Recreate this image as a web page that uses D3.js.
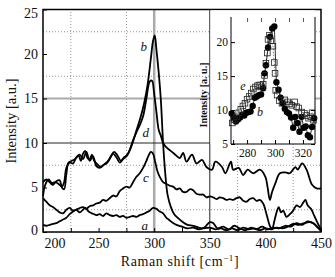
<!DOCTYPE html>
<html lang="en">
<head>
    <meta charset="UTF-8">
    <title></title>
    <script src="https://d3js.org/d3.v7.min.js"></script>
    <style>
        body { margin: 0; background: #fff; }
        svg { display: block; font-family: "Liberation Serif", serif; }
        svg text { font-family: "Liberation Serif", serif !important; fill: #111; }
    </style>
</head>
<body>
<script>
    // main spectra, Raman shift [cm-1] vs intensity [a.u.]
    var aShift = [200,203,206,209,212,215,218,221,224,227,230,233,236,238,241,244,248,251,254,257,260,263,266,269,272,275,278,281,284,287,290,293,296,299,302,305,308,311,314,317,320,325,330,335,340,345,350,353,357,362,367,372,377,382,387,392,397,402,407,412,418,423,428,433,438,443,447,450];
    var aInt   = [3.8,3.4,3.0,2.8,2.5,2.2,2.1,2.5,2.7,2.4,2.5,2.2,2.5,2.7,2.3,2.1,1.9,2.0,1.8,2.1,1.9,1.8,1.9,1.7,1.8,1.6,1.7,1.8,1.7,1.9,2.0,2.2,2.4,2.7,2.6,2.3,2.1,1.6,1.3,1.0,0.8,0.6,0.4,0.5,0.3,0.5,1.1,1.0,0.4,0.6,0.3,0.7,0.4,0.2,0.5,0.3,0.6,0.3,0.5,0.4,0.7,0.6,1.0,0.8,1.2,1.0,0.5,0.2];

    var bShift = [200,203,206,209,212,215,217,219,221,223,226,229,232,234,236,238,240,242,244,246,249,252,255,258,261,264,267,270,273,276,279,282,285,288,291,294,297,299,300.5,302,304,306,308,310,312,315,318,322,326,330,335,340,345,350,355,360,365,370,375,380,385,390,395,400,405,410,415,420,425,430,435,440,445,450];
    var bInt   = [5.6,5.9,5.6,5.3,5.7,5.8,5.0,4.8,6.5,7.8,8.0,8.2,8.6,8.0,8.8,9.1,8.3,8.2,8.7,8.0,7.6,7.3,7.6,7.9,8.5,9.0,8.6,8.0,8.4,8.7,9.5,10.6,11.8,13.0,14.5,16.5,19.5,21.5,22.1,20.5,18.0,14.8,10.0,6.5,4.2,2.8,2.0,1.5,1.1,0.8,0.7,0.5,0.4,0.5,0.3,0.4,0.2,0.4,0.2,0.5,0.3,0.4,0.2,0.4,0.3,0.5,0.4,0.6,0.9,0.8,1.0,1.1,0.8,0.1];

    var cShift = [200,203,206,209,212,215,218,221,224,227,230,233,236,239,242,245,248,251,254,257,260,263,266,269,272,275,278,281,284,287,290,293,295,297,299,301,303,305,308,311,314,317,320,323,326,329,332,335,338,341,344,347,350,353,356,359,362,365,368,371,374,377,380,383,386,389,392,395,398,401,404,406,408,410,412,414,416,419,422,425,428,431,434,436,438,441,444,447,450];
    var cInt   = [0.8,0.7,0.8,0.9,1.0,1.2,1.4,1.6,2.0,2.3,2.5,2.7,2.8,2.6,2.9,3.0,3.2,3.3,3.6,3.5,3.8,4.1,4.0,4.6,4.9,5.1,5.0,5.6,6.2,6.6,7.2,8.0,8.6,9.0,8.8,7.8,6.8,6.2,5.6,5.4,5.2,5.1,4.8,4.9,4.5,4.5,4.8,4.7,4.3,4.2,4.2,3.9,4.0,3.9,3.7,3.9,3.8,3.6,3.7,3.6,3.8,3.9,3.5,3.4,3.7,3.8,3.5,3.6,3.2,2.0,0.7,0.3,1.2,2.2,2.8,2.2,2.4,1.7,2.0,2.4,3.0,2.8,3.3,3.6,3.0,2.6,1.8,1.0,0.3];

    var dShift = [200,202,205,208,211,214,217,219,221,224,227,230,233,236,239,242,245,248,251,254,257,260,263,266,269,272,275,278,281,284,287,290,293,296,298,300,302,304,306,308,311,314,318,323,326,329,334,338,343,347,352,355,361,364,369,371,376,380,384,389,395,400,402,404,406,409,413,418,422,427,429,433,437,442,446,450];
    var dInt   = [4.0,5.3,5.9,5.5,5.6,5.4,5.1,5.6,7.2,7.8,7.7,8.4,8.7,8.2,9.0,8.0,8.5,7.4,7.2,7.5,7.7,8.2,8.8,8.4,7.8,8.2,8.5,9.2,10.3,11.2,12.0,13.0,15.0,16.9,17.0,15.5,13.5,11.5,10.8,10.0,9.5,9.2,8.8,8.3,8.9,7.9,8.7,7.7,8.1,7.3,7.0,7.9,7.3,6.6,7.9,7.0,7.2,6.4,7.0,6.6,7.0,6.2,5.0,3.6,4.5,5.5,6.6,6.7,6.6,7.3,7.0,7.7,7.0,5.3,4.9,4.9];

    var curveLabels = ["b", "d", "c", "a"];
    var labelShift = [290.5, 292.5, 292.5, 291.5];
    var labelInt   = [20.8, 11.2, 6.1, 0.7];

    // inset: sample e (squares) and b (dots)
    var insetBShift = [269,270.5,272,273.5,275,276.5,278,279.5,281,282.5,284,285.5,287,288.5,290,291.5,292.5,293.5,295,296.5,298,299.5,301,302.5,304,305.5,307,308.5,310,311.5,313,314.5,316,317.5,319,320.5,322,323.5,325,326.5,328];
    var insetBInt   = [9.5,8.9,8.3,8.6,8.9,9.3,9.2,9.6,9.7,9.8,10.6,11.8,12.0,12.2,12.3,13.2,15.4,16.6,19.2,20.8,22.0,22.3,14.1,13.0,11.8,11.0,10.2,9.7,9.5,8.9,7.4,9.0,8.1,6.8,9.0,7.4,7.6,6.3,6.0,7.5,8.8];
    var insetEShift = [269.5,271,272.5,274,275.5,277,278.5,280,281.5,283,284.5,286,287.5,289,290.5,291.5,292.5,293.5,294.5,295,296,297,298.5,299.5,300,300.5,301.5,303,305,307,309,310.5,312,314,315.5,317,319,321,322.5,324,325.5,326.5,327.5];
    var insetEInt   = [8.1,8.6,9.0,9.6,10.1,10.6,11.0,11.6,12.0,12.5,13.1,13.4,13.6,13.7,13.4,13.8,15.1,16.9,18.4,20.4,21.0,20.2,19.4,17.0,15.4,12.9,12.2,11.4,11.0,11.5,11.2,10.9,10.7,11.2,10.5,10.3,9.7,9.5,9.2,8.8,9.0,9.6,8.5];

    var xTicks = [200, 250, 300, 350, 400, 450];
    var yTicks = [0, 5, 10, 15, 20, 25];
    var insetXTicks = [280, 300, 320];
    var insetYTicks = [5, 10, 15, 20];

    var width = 335, height = 277;

    var svg = d3.select("body").append("svg")
        .attr("width", width)
        .attr("height", height);

    var x = d3.scaleLinear().domain([200, 450]).range([43, 321]);
    var y = d3.scaleLinear().domain([0, 25]).range([232, 9.5]);

    function zip(xs, ys) {
        return xs.map(function(v, i) { return [v, ys[i]]; });
    }

    // grid lines
    var grid = svg.append("g");
    [2.5, 7.5, 17.5, 22.5].forEach(function(v) {
        grid.append("line").attr("x1", x(200)).attr("x2", x(450)).attr("y1", y(v)).attr("y2", y(v))
            .attr("stroke", "#777").attr("stroke-width", 0.8).attr("stroke-dasharray", "1,2");
    });
    [225, 275, 375, 425].forEach(function(v) {
        grid.append("line").attr("x1", x(v)).attr("x2", x(v)).attr("y1", y(0)).attr("y2", y(25))
            .attr("stroke", "#777").attr("stroke-width", 0.8).attr("stroke-dasharray", "1,2");
    });
    grid.append("line").attr("x1", x(200)).attr("x2", x(450)).attr("y1", y(15)).attr("y2", y(15))
        .attr("stroke", "#aaa").attr("stroke-width", 2);
    grid.append("line").attr("x1", x(300)).attr("x2", x(300)).attr("y1", y(0)).attr("y2", y(25))
        .attr("stroke", "#aaa").attr("stroke-width", 2.5);
    grid.append("line").attr("x1", x(200)).attr("x2", x(350)).attr("y1", y(10)).attr("y2", y(10))
        .attr("stroke", "#222").attr("stroke-width", 1);
    grid.append("line").attr("x1", x(350)).attr("x2", x(350)).attr("y1", y(0)).attr("y2", y(25))
        .attr("stroke", "#222").attr("stroke-width", 1);

    // curves
    var line = d3.line().x(function(d) { return x(d[0]); }).y(function(d) { return y(d[1]); })
        .curve(d3.curveCatmullRom);
    [zip(aShift, aInt), zip(bShift, bInt), zip(cShift, cInt), zip(dShift, dInt)].forEach(function(s) {
        svg.append("path").datum(s).attr("d", line)
            .attr("fill", "none").attr("stroke", "#000").attr("stroke-width", 1.8)
            .attr("stroke-linejoin", "round");
    });

    svg.selectAll(".clabel").data(curveLabels).enter().append("text")
        .attr("class", "clabel")
        .attr("x", function(d, i) { return x(labelShift[i]); })
        .attr("y", function(d, i) { return y(labelInt[i]); })
        .attr("text-anchor", "middle")
        .attr("dy", "0.35em")
        .style("font-style", "italic")
        .style("font-size", "13px")
        .text(function(d) { return d; });

    // axes
    var xAxis = svg.append("g").attr("transform", "translate(0,232)")
        .call(d3.axisBottom(x).tickValues([200, 225, 250, 275, 300, 325, 350, 375, 400, 425, 450])
            .tickSizeInner(-4).tickSizeOuter(0).tickPadding(6)
            .tickFormat(function(d) { return xTicks.indexOf(d) >= 0 ? d : ""; }));
    xAxis.select(".domain").remove();
    xAxis.attr("font-family", null);
    xAxis.selectAll("text").style("font-size", "14px");
    xAxis.selectAll(".tick").filter(function(d) { return d === 200; }).select("text")
        .attr("text-anchor", "start").attr("x", 1);

    var yAxis = svg.append("g").attr("transform", "translate(43,0)")
        .call(d3.axisLeft(y).tickValues(yTicks).tickSizeInner(-4).tickSizeOuter(0).tickPadding(5));
    yAxis.select(".domain").remove();
    yAxis.attr("font-family", null);
    yAxis.selectAll("text").style("font-size", "14px");
    yAxis.selectAll(".tick").filter(function(d) { return d === 25; }).select("text").attr("y", 3.5);
    yAxis.selectAll(".tick").filter(function(d) { return d === 0; }).select("text").attr("y", -2);

    svg.append("rect").attr("x", 43).attr("y", 9.5).attr("width", 278).attr("height", 222.5)
        .attr("fill", "none").attr("stroke", "#000").attr("stroke-width", 1.5);

    svg.append("text").attr("transform", "translate(16,121) rotate(-90)")
        .attr("text-anchor", "middle")
        .style("font-size", "14.5px")
        .text("Intensity [a.u.]");

    svg.append("text").attr("x", 180).attr("y", 266)
        .attr("text-anchor", "middle")
        .style("font-size", "14px")
        .style("letter-spacing", "0.6px")
        .html("Raman shift [cm<tspan dy='-5' font-size='9px'>\u22121</tspan><tspan dy='5'>]</tspan>");

    // inset
    svg.append("rect").attr("x", 210.5).attr("y", 10.3).attr("width", 104.5).attr("height", 133.5)
        .attr("fill", "#fff");

    var xi = d3.scaleLinear().domain([268.5, 328.6]).range([231, 315]);
    var yi = d3.scaleLinear().domain([5, 23.7]).range([144, 17]);

    var inset = svg.append("g");
    var iline = d3.line().x(function(d) { return xi(d[0]); }).y(function(d) { return yi(d[1]); });
    inset.append("path").datum(zip(insetEShift, insetEInt)).attr("d", iline)
        .attr("fill", "none").attr("stroke", "#444").attr("stroke-width", 0.7).attr("stroke-dasharray", "1.5,1.5");
    inset.append("path").datum(zip(insetBShift, insetBInt)).attr("d", iline)
        .attr("fill", "none").attr("stroke", "#000").attr("stroke-width", 0.8);
    inset.selectAll(".dot").data(zip(insetBShift, insetBInt)).enter().append("circle")
        .attr("class", "dot")
        .attr("cx", function(d) { return xi(d[0]); })
        .attr("cy", function(d) { return yi(d[1]); })
        .attr("r", 3.2).attr("fill", "#000");
    inset.selectAll(".sq").data(zip(insetEShift, insetEInt)).enter().append("rect")
        .attr("class", "sq")
        .attr("x", function(d) { return xi(d[0]) - 2.8; })
        .attr("y", function(d) { return yi(d[1]) - 2.8; })
        .attr("width", 5.6).attr("height", 5.6)
        .attr("fill", "none").attr("stroke", "#222").attr("stroke-width", 0.8);

    // inset axes
    inset.append("line").attr("x1", 231).attr("x2", 231).attr("y1", 17).attr("y2", 144).attr("stroke", "#000").attr("stroke-width", 1);
    inset.append("line").attr("x1", 315).attr("x2", 315).attr("y1", 17).attr("y2", 144).attr("stroke", "#000").attr("stroke-width", 1);
    inset.append("line").attr("x1", 231).attr("x2", 315).attr("y1", 144).attr("y2", 144).attr("stroke", "#000").attr("stroke-width", 1);

    var ixb = inset.append("g").attr("transform", "translate(0,144)")
        .call(d3.axisBottom(xi).tickValues([270, 280, 290, 300, 310, 320])
            .tickSizeInner(-4).tickSizeOuter(0).tickPadding(5)
            .tickFormat(function(d) { return insetXTicks.indexOf(d) >= 0 ? d : ""; }));
    ixb.select(".domain").remove();
    ixb.attr("font-family", null);
    ixb.selectAll("text").style("font-size", "11.5px");

    var ixt = inset.append("g").attr("transform", "translate(0,18)")
        .call(d3.axisTop(xi).tickValues([280, 290, 300, 310, 320]).tickSizeInner(-4).tickSizeOuter(0).tickFormat(""));
    ixt.select(".domain").remove();
    ixt.selectAll("line").attr("stroke", "#555");

    var iyl = inset.append("g").attr("transform", "translate(231,0)")
        .call(d3.axisLeft(yi).tickValues(insetYTicks).tickSizeInner(-4).tickSizeOuter(0).tickPadding(3));
    iyl.select(".domain").remove();
    iyl.attr("font-family", null);
    iyl.selectAll("text").style("font-size", "11.5px");

    var iyr = inset.append("g").attr("transform", "translate(315,0)")
        .call(d3.axisRight(yi).tickValues([5, 10, 15, 20]).tickSizeInner(-4).tickSizeOuter(0).tickFormat(""));
    iyr.select(".domain").remove();

    inset.append("text").attr("transform", "translate(207,95) rotate(-90)")
        .attr("text-anchor", "middle")
        .attr("textLength", 65).attr("lengthAdjust", "spacingAndGlyphs")
        .style("font-size", "10px").style("font-weight", "bold")
        .text("Intensity [a. u.]");

    inset.append("text").attr("x", 243).attr("y", 90)
        .attr("text-anchor", "middle").style("font-style", "italic").style("font-size", "12px").text("e");
    inset.append("text").attr("x", 260).attr("y", 116)
        .attr("text-anchor", "middle").style("font-style", "italic").style("font-size", "12px").text("b");
</script>
</body>
</html>
